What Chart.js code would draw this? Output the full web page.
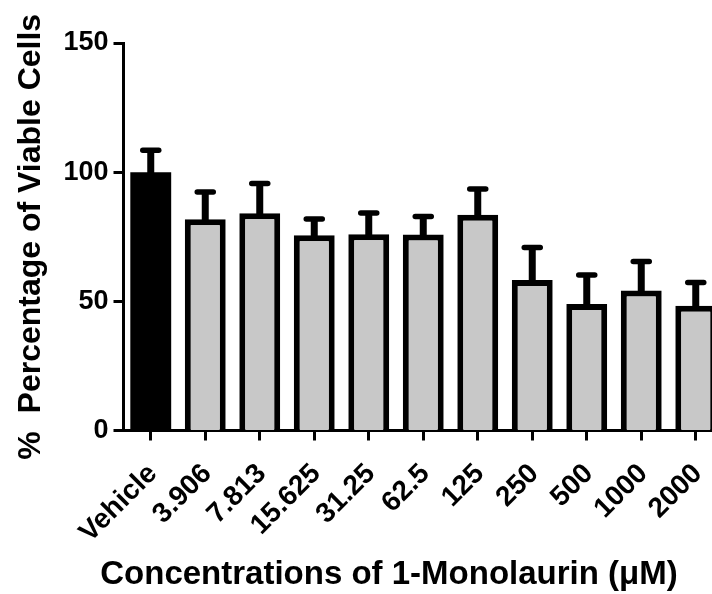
<!DOCTYPE html>
<html>
<head>
<meta charset="utf-8">
<script src="https://cdn.jsdelivr.net/npm/chart.js@4.4.1/dist/chart.umd.min.js"></script>
<style>
  html, body { margin: 0; padding: 0; background: #fff; }
  #wrap { width: 712px; height: 594px; overflow: hidden; }
</style>
</head>
<body>
<div id="wrap"><canvas id="viability" width="730" height="594"></canvas></div>
<script>
const concentrations = ['Vehicle', '3.906', '7.813', '15.625', '31.25', '62.5', '125', '250', '500', '1000', '2000'];
const viability = [100, 81.8, 84.1, 75.6, 76, 75.9, 83.5, 58.3, 49, 54.2, 48.3];
const viabilitySD = [8.5, 10.5, 11.5, 6.3, 8.2, 6.9, 10, 12.5, 11.2, 11.2, 9];
const yTicks = [0, 50, 100, 150];

const FONT = "'Liberation Sans', Arial, sans-serif";

// upper SD bars, GraphPad style
const sdBars = {
  id: 'sdBars',
  afterDatasetsDraw(chart) {
    const ctx = chart.ctx;
    const y = chart.scales.y;
    const meta = chart.getDatasetMeta(0);
    ctx.save();
    ctx.strokeStyle = '#000';
    meta.data.forEach((bar, i) => {
      const top = y.getPixelForValue(viability[i] + viabilitySD[i]);
      ctx.lineCap = 'butt';
      ctx.lineWidth = 7;
      ctx.beginPath();
      ctx.moveTo(bar.x, bar.y + 3);
      ctx.lineTo(bar.x, top);
      ctx.stroke();
      ctx.lineCap = 'round';
      ctx.lineWidth = 5.5;
      ctx.beginPath();
      ctx.moveTo(bar.x - 8, top);
      ctx.lineTo(bar.x + 8, top);
      ctx.stroke();
    });
    ctx.restore();
  }
};

// x axis title, drawn a bit left of the plot centre like the original
const xTitle = {
  id: 'xTitle',
  afterDraw(chart) {
    const ctx = chart.ctx;
    ctx.save();
    ctx.font = 'bold 33px ' + FONT;
    ctx.fillStyle = '#000';
    ctx.textAlign = 'center';
    ctx.textBaseline = 'alphabetic';
    ctx.fillText('Concentrations of 1-Monolaurin (\u03BCM)', 389, 584);
    ctx.restore();
  }
};

new Chart(document.getElementById('viability'), {
  type: 'bar',
  data: {
    labels: concentrations,
    datasets: [{
      data: viability,
      backgroundColor: concentrations.map((c, i) => i === 0 ? '#000000' : '#c8c8c8'),
      borderColor: '#000000',
      // vehicle bar is solid black, no border needed (avoids a seam)
      borderWidth: concentrations.map((c, i) => i === 0 ? 0 : 6),
      borderSkipped: 'bottom',
      categoryPercentage: 1,
      barPercentage: 0.75
    }]
  },
  options: {
    responsive: false,
    animation: false,
    devicePixelRatio: 1,
    layout: { padding: { top: 43, right: 7, left: 0, bottom: 0 } },
    plugins: {
      legend: { display: false },
      tooltip: { enabled: false }
    },
    scales: {
      x: {
        offset: true,
        grid: {
          offset: false,
          drawOnChartArea: false,
          drawTicks: true,
          tickLength: 10,
          tickWidth: 3,
          tickColor: '#000'
        },
        border: { display: true, width: 3, color: '#000' },
        ticks: {
          autoSkip: false,
          minRotation: 45,
          maxRotation: 45,
          labelOffset: 2,
          padding: 17,
          color: '#000',
          font: { family: FONT, size: 28, weight: 'bold' }
        },
        afterFit: s => {
          s.height = 163.5;
          // the last bar runs off the right edge in the original, keep it that way
          s.paddingLeft = 0;
          s.paddingRight = 0;
        }
      },
      y: {
        min: 0,
        max: 150,
        afterBuildTicks: s => { s.ticks = yTicks.map(v => ({ value: v })); },
        grid: {
          drawOnChartArea: false,
          drawTicks: true,
          tickLength: 10,
          tickWidth: 3,
          tickColor: '#000'
        },
        border: { display: true, width: 3, color: '#000' },
        ticks: {
          padding: 5,
          color: '#000',
          font: { family: FONT, size: 27, weight: 'bold' }
        },
        title: {
          display: true,
          text: '%  Percentage of Viable Cells',
          color: '#000',
          padding: { top: 12, bottom: 0 },
          font: { family: FONT, size: 32, weight: 'bold' }
        },
        afterFit: s => { s.width = 123.5; }
      }
    }
  },
  plugins: [sdBars, xTitle]
});
</script>
</body>
</html>
